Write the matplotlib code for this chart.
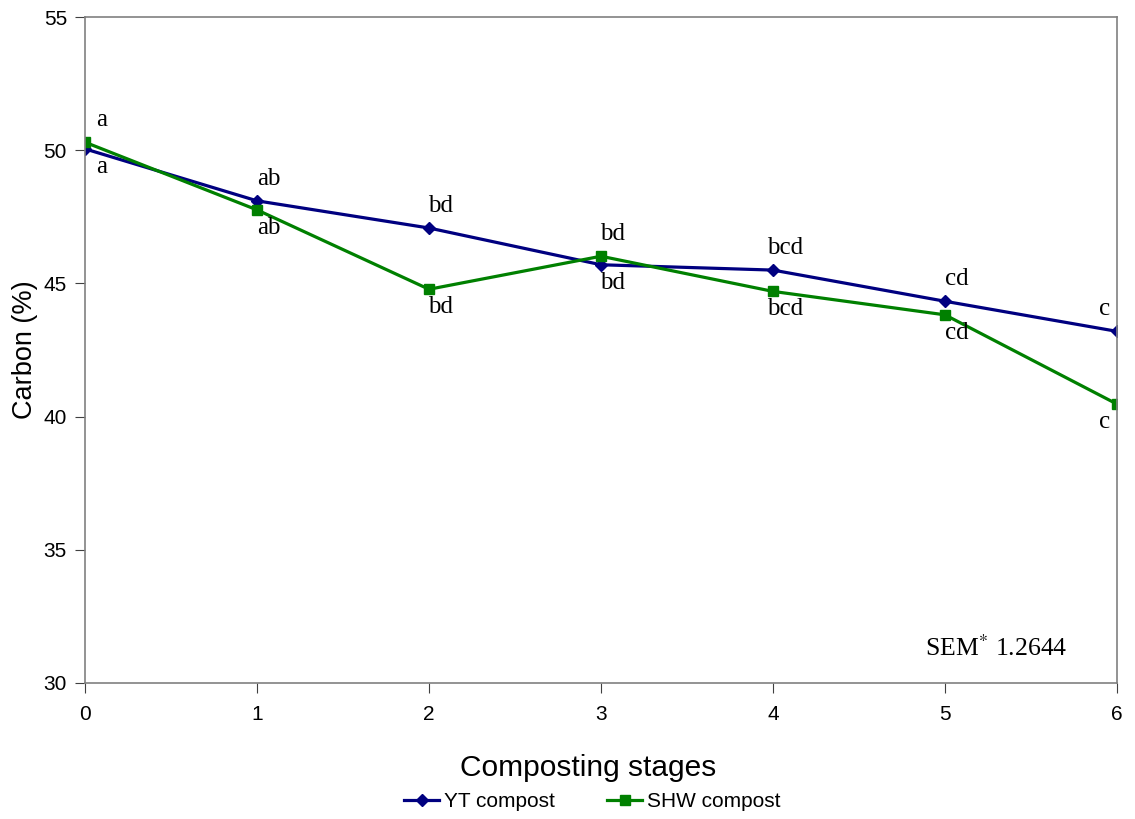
import numpy as np
import matplotlib.pyplot as plt

stages = [0, 1, 2, 3, 4, 5, 6]
yt = [50.05, 48.1, 47.08, 45.7, 45.5, 44.33, 43.2]
shw = [50.3, 47.76, 44.78, 46.02, 44.7, 43.82, 40.47]
yt_letters = ['a', 'ab', 'bd', 'bd', 'bcd', 'cd', 'c']
shw_letters = ['a', 'ab', 'bd', 'bd', 'bcd', 'cd', 'c']
yticks = [30, 35, 40, 45, 50, 55]

fig = plt.figure(figsize=(11.35, 8.19), dpi=100)
ax = fig.add_axes([0.0749, 0.1661, 0.9092, 0.8131])

ax.plot(stages, yt, color='#000080', marker='D', markersize=6, linewidth=2.3,
        label='YT compost')
ax.plot(stages, shw, color='#008000', marker='s', markersize=7, linewidth=2.3,
        label='SHW compost')

# letters: above the higher point, below the lower one
for i in range(len(stages)):
    dx = 12
    if i == 0:
        dx = 17
    if i == len(stages) - 1:
        dx = -12
    if yt[i] >= shw[i]:
        hi, lo = (yt[i], yt_letters[i]), (shw[i], shw_letters[i])
    else:
        hi, lo = (shw[i], shw_letters[i]), (yt[i], yt_letters[i])
    ax.annotate(hi[1], (stages[i], hi[0]), xytext=(dx * 0.72, 8),
                textcoords='offset points', ha='center', va='bottom',
                family='Liberation Serif', fontsize=18)
    ax.annotate(lo[1], (stages[i], lo[0]), xytext=(dx * 0.72, -5),
                textcoords='offset points', ha='center', va='top',
                family='Liberation Serif', fontsize=18)

ax.text(5.71, 31.3, 'SEM$^{*}$ 1.2644', ha='right', va='center',
        family='Liberation Serif', fontsize=18.5,
        math_fontfamily='stix')

ax.set_xlim(0, 6)
ax.set_ylim(30, 55)
ax.set_xticks(stages)
ax.set_yticks(yticks)
for s in ax.spines.values():
    s.set_color('#808080')
    s.set_linewidth(1.2)
ax.tick_params(direction='out', length=7, color='#404040', labelsize=15)
ax.tick_params(axis='x', pad=9)
ax.tick_params(axis='y', pad=6)
for lab in ax.get_xticklabels() + ax.get_yticklabels():
    lab.set_family('Liberation Sans')

ax.set_xlabel('Composting stages', family='Liberation Sans', fontsize=21.5)
ax.xaxis.set_label_coords(0.488, -0.106)
ax.set_ylabel('Carbon (%)', family='Liberation Sans', fontsize=19.5,
              labelpad=4)

fig.legend(loc='center', bbox_to_anchor=(0.522, 0.021), ncol=2,
           frameon=False, prop={'family': 'Liberation Sans', 'size': 15},
           handlelength=1.68, columnspacing=2.5, handletextpad=0.25)

plt.savefig('out.png')
plt.close()
